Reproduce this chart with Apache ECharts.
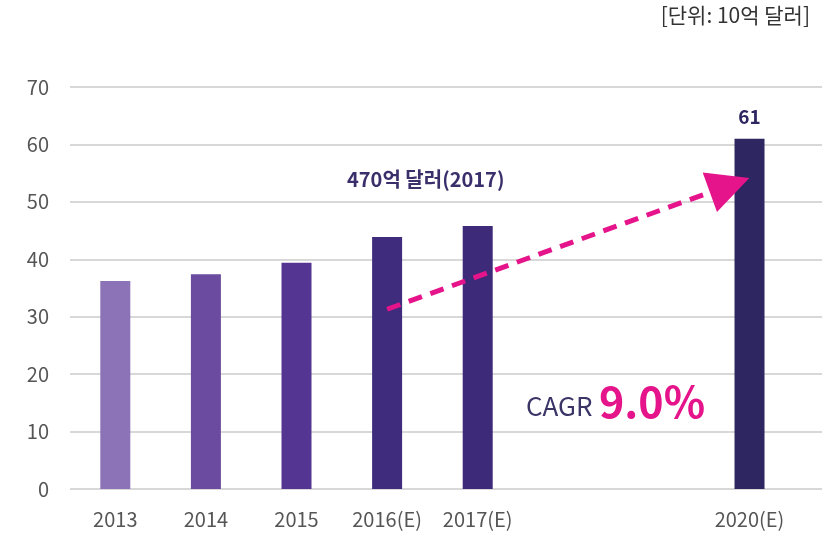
<!DOCTYPE html>
<html>
<head>
<meta charset="utf-8">
<script src="https://cdn.jsdelivr.net/npm/echarts@6/dist/echarts.min.js"></script>
<style>
  html, body { margin: 0; padding: 0; background: #fff; }
  #chart { width: 835px; height: 537px; }
</style>
</head>
<body>
<div id="chart"></div>
<script>
// 데이터
const years = ['2013', '2014', '2015', '2016(E)', '2017(E)', '2020(E)']
const values = [36.2, 37.4, 39.4, 43.9, 45.8, 61]
const barColors = ['#8c72b6', '#6a4b9f', '#553592', '#3f2c7c', '#3d2a78', '#2d2660']
const yTicks = [0, 10, 20, 30, 40, 50, 60, 70]
// 화살표 (2016 → 2020 방향), [x 위치, 값]
const arrowFrom = [3, 31.3]
const arrowTo = [6.78, 52.9]

const font = '"Noto Sans CJK KR", "Noto Sans", sans-serif'
// 연도 → x 위치 (2018, 2019 은 빈 칸)
const xOf = (label) => parseInt(label) - 2013

const chart = echarts.init(document.getElementById('chart'))

chart.setOption({
  animation: false,
  textStyle: { fontFamily: font },
  grid: { left: 70, right: 13, top: 87, bottom: 48 },
  xAxis: {
    type: 'value',
    min: -0.5,
    max: 7.8,
    splitLine: { show: false },
    axisLine: { show: false },
    axisTick: { show: false },
    axisLabel: {
      customValues: years.map(xOf),
      formatter: (v) => years[years.findIndex((y) => xOf(y) === v)] || '',
      color: '#555',
      fontSize: 20,
      margin: 20,
      fontFamily: font
    }
  },
  yAxis: {
    type: 'value',
    min: yTicks[0],
    max: yTicks[yTicks.length - 1],
    interval: 10,
    axisLine: { show: false },
    axisTick: { show: false },
    axisLabel: { color: '#555', fontSize: 20, margin: 21, fontFamily: font },
    splitLine: { lineStyle: { color: '#cbcbcb', width: 1.5 } }
  },
  series: [{
    type: 'bar',
    barWidth: 30,
    data: years.map((y, i) => ({
      value: [xOf(y), values[i]],
      itemStyle: { color: barColors[i] },
      label: {
        show: i === years.length - 1,
        position: 'top',
        distance: 12,
        formatter: String(values[i]),
        color: '#2d2660',
        fontSize: 19,
        fontWeight: 'bold',
        fontFamily: font
      }
    })),
    markLine: {
      silent: true,
      symbol: ['none', 'triangle'],
      symbolSize: 42,
      label: { show: false },
      lineStyle: { color: '#e6148b', width: 5, type: [14, 9], opacity: 1 },
      data: [[
        { coord: arrowFrom },
        { coord: arrowTo }
      ]]
    }
  }],
  graphic: [
    {
      type: 'text', right: 25, top: 5,
      style: { text: '[단위: 10억 달러]', fontSize: 21, fill: '#333', fontFamily: font }
    },
    {
      type: 'text', left: 347, top: 169,
      style: { text: '470억 달러(2017)', fontSize: 20, fontWeight: 'bold', fill: '#3b2f6b', fontFamily: font }
    },
    {
      type: 'text', left: 526, top: 393,
      style: { text: 'CAGR', fontSize: 26, fill: '#3a3566', fontFamily: font }
    },
    {
      type: 'text', left: 599, top: 380,
      style: { text: '9.0%', fontSize: 43, fontWeight: 'bold', fill: '#e5148b', fontFamily: font }
    }
  ]
})
</script>
</body>
</html>
